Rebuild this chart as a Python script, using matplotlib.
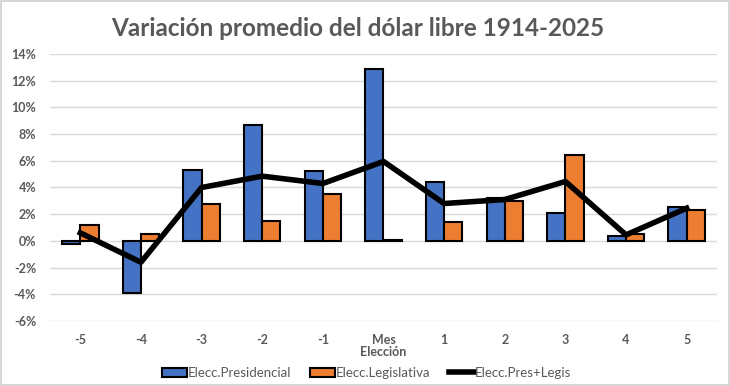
import matplotlib.pyplot as plt
import numpy as np
from matplotlib.ticker import FuncFormatter

categorias = ["-5", "-4", "-3", "-2", "-1", "Mes\nElección", "1", "2", "3", "4", "5"]
presidencial = [-0.2, -3.9, 5.3, 8.7, 5.2, 12.9, 4.4, 3.2, 2.1, 0.4, 2.55]
legislativa = [1.2, 0.5, 2.75, 1.5, 3.55, 0.05, 1.4, 3.0, 6.4, 0.5, 2.3]
pres_legis = [0.6, -1.6, 4.0, 4.85, 4.3, 5.95, 2.8, 3.1, 4.45, 0.45, 2.45]

gris = "#595959"
plt.rcParams["font.family"] = ["Lato", "DejaVu Sans"]

fig = plt.figure(figsize=(7.3, 3.86), dpi=100)
ax = fig.add_axes([50 / 730, 1 - 321 / 386, 667 / 730, 267 / 386])

x = np.arange(len(categorias))
w = 0.3
b1 = ax.bar(x - w / 2, presidencial, w, color="#4472C4", edgecolor="black",
            linewidth=1.5, label="Elecc.Presidencial", zorder=2)
b2 = ax.bar(x + w / 2, legislativa, w, color="#ED7D31", edgecolor="black",
            linewidth=1.5, label="Elecc.Legislativa", zorder=2)
(ln,) = ax.plot(x, pres_legis, color="black", linewidth=4,
                label="Elecc.Pres+Legis", zorder=3)

ax.set_xlim(-0.5, len(categorias) - 0.5)
ax.set_ylim(-6, 14)
ax.set_yticks(np.arange(-6, 15, 2))
ax.yaxis.set_major_formatter(FuncFormatter(lambda v, p: f"{v:.0f}%"))
ax.set_xticks(x)
ax.set_xticklabels(categorias)
ax.grid(axis="y", color="#D9D9D9", linewidth=1, zorder=0)
for s in ax.spines.values():
    s.set_visible(False)
ax.tick_params(length=0, colors=gris, labelsize=9)
ax.tick_params(axis="x", pad=9)
ax.tick_params(axis="y", pad=10)
for lab in ax.get_xticklabels() + ax.get_yticklabels():
    lab.set_fontweight("bold")
    lab.set_linespacing(1.1)

fig.suptitle("Variación promedio del dólar libre 1914-2025", x=0.49, y=0.955,
             fontsize=17.5, fontweight="bold", color=gris)

leg = fig.legend([b1, b2, ln], [b1.get_label(), b2.get_label(), ln.get_label()],
                 loc="lower center", bbox_to_anchor=(0.502, -0.012), ncol=3,
                 frameon=False, fontsize=9.5, handlelength=1.9,
                 handletextpad=0.05, columnspacing=1.4)
for t in leg.get_texts():
    t.set_color(gris)

fig.patches.append(plt.Rectangle((0.002, 0.003), 0.996, 0.994,
                                 transform=fig.transFigure, fill=False,
                                 edgecolor="#D0D0D0", linewidth=1.2))

fig.savefig("out.png", dpi=100)
